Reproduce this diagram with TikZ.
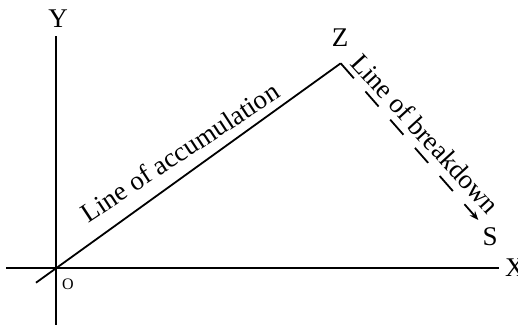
\documentclass[tikz,border=0pt]{standalone}
\usepackage{fontspec}
\setmainfont{Liberation Serif}
\usetikzlibrary{arrows.meta}
\begin{document}
\begin{tikzpicture}[x=1pt,y=-1pt,
  axis/.style={line width=1.8pt},
  lbl/.style={font=\fontsize{27}{30}\selectfont, inner sep=0pt},
  linelbl/.style={font=\fontsize{27}{30}\selectfont, inner sep=0pt, anchor=base west},
  dashline/.style={line width=1.8pt, dash pattern=on 20pt off 17.5pt, -{Stealth[length=9pt,width=7pt]}}]
\useasboundingbox (0,0) rectangle (518,324);
\coordinate (O) at (55.7,268.3);
\coordinate (Ytop) at (55.7,36);
\coordinate (Ybot) at (55.7,326);
\coordinate (Xleft) at (6,268.3);
\coordinate (Xright) at (499,268.3);
\coordinate (tail) at (36,282.7);
\coordinate (Z) at (340.7,63.3);
\coordinate (tip) at (478.3,220);
\draw[axis] (Ybot) -- (Ytop);
\draw[axis] (Xleft) -- (Xright);
\draw[axis] (tail) -- (Z);
\draw[dashline] (Z) -- (tip);
\node[lbl] (ylab) at (58,19) {Y};
\node[lbl] (zlab) at (340,38) {Z};
\node[lbl] (slab) at (490,237) {S};
\node[lbl, anchor=west] (xlab) at (505,268) {X};
\node[inner sep=0pt, font=\fontsize{16}{18}\selectfont] (olab) at (68,284) {O};
\node[linelbl, rotate=33.3] (acc) at (88.3,223.3) {Line of accumulation};
\node[linelbl, rotate=-47.6] (brk) at (349,64) {Line of breakdown};
\end{tikzpicture}
\end{document}
